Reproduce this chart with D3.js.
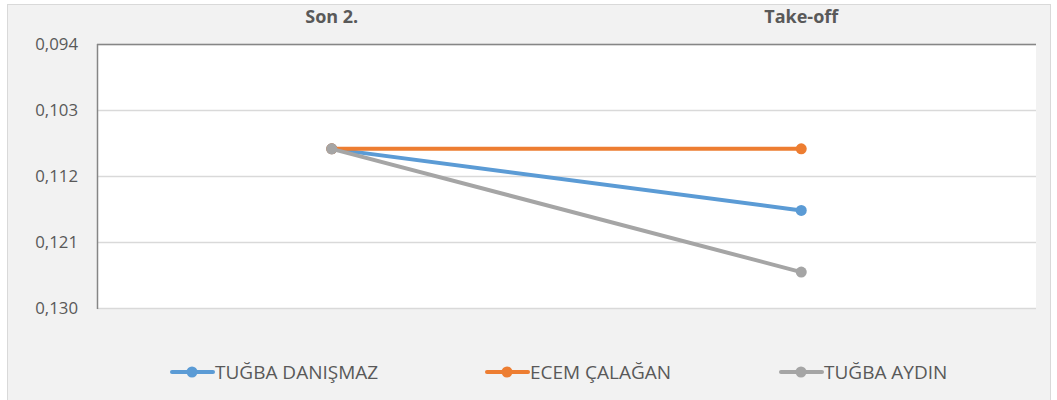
<!DOCTYPE html>
<html>
<head>
<meta charset="utf-8">
<script src="https://cdn.jsdelivr.net/npm/d3@7"></script>
<style>
  body { margin: 0; background: #fff; }
  #chart { width: 1057px; height: 400px; }
  text { font-family: 'Open Sans', 'Noto Sans', sans-serif; }
</style>
</head>
<body>
<div id="chart"></div>
<script>
const categories = ['Son 2.', 'Take-off'];
const seriesNames = ['TUĞBA DANIŞMAZ', 'ECEM ÇALAĞAN', 'TUĞBA AYDIN'];
const seriesColors = ['#5b9bd5', '#ed7d31', '#a5a5a5'];
const danismaz = [0.1083, 0.1167];
const calagan = [0.1083, 0.1083];
const aydin = [0.1083, 0.1251];
const yTicks = [0.094, 0.103, 0.112, 0.121, 0.130];

const series = [danismaz, calagan, aydin];

const width = 1057;
const height = 400;

const svg = d3
  .select('#chart')
  .append('svg')
  .attr('width', width)
  .attr('height', height);

// chart panel
svg
  .append('rect')
  .attr('x', 7.5)
  .attr('y', 4.5)
  .attr('width', 1043)
  .attr('height', 400)
  .attr('fill', '#f2f2f2')
  .attr('stroke', '#d9d9d9');

const x = d3.scaleBand().domain(categories).range([97, 1036]);

const y = d3.scaleLinear().domain([0.094, 0.13]).range([44, 308]);

svg
  .append('rect')
  .attr('x', x.range()[0])
  .attr('y', y(0.094))
  .attr('width', x.range()[1] - x.range()[0])
  .attr('height', y(0.13) - y(0.094))
  .attr('fill', '#fff');

// gridlines
svg
  .append('g')
  .selectAll('line')
  .data(yTicks)
  .enter()
  .append('line')
  .attr('x1', x.range()[0])
  .attr('x2', x.range()[1])
  .attr('y1', (d) => Math.round(y(d)) + 0.5)
  .attr('y2', (d) => Math.round(y(d)) + 0.5)
  .attr('stroke', '#d9d9d9')
  .attr('stroke-width', 1.5);

// top category axis line and left value axis line
svg
  .append('line')
  .attr('x1', x.range()[0])
  .attr('x2', x.range()[1])
  .attr('y1', y(0.094) + 0.5)
  .attr('y2', y(0.094) + 0.5)
  .attr('stroke', '#868686')
  .attr('stroke-width', 1.5);

svg
  .append('line')
  .attr('x1', x.range()[0] + 0.5)
  .attr('x2', x.range()[0] + 0.5)
  .attr('y1', y(0.094))
  .attr('y2', y(0.13) + 1)
  .attr('stroke', '#868686')
  .attr('stroke-width', 1.5);

// y tick labels
const fmt = (v) => v.toFixed(3).replace('.', ',');
svg
  .append('g')
  .selectAll('text')
  .data(yTicks)
  .enter()
  .append('text')
  .attr('x', 78)
  .attr('y', (d) => y(d))
  .attr('dy', '0.35em')
  .attr('text-anchor', 'end')
  .attr('fill', '#595959')
  .style('font-size', '16.8px')
  .text(fmt);

// category labels on top
svg
  .append('g')
  .selectAll('text')
  .data(categories)
  .enter()
  .append('text')
  .attr('x', (d) => x(d) + x.bandwidth() / 2)
  .attr('y', 17)
  .attr('dy', '0.35em')
  .attr('text-anchor', 'middle')
  .attr('fill', '#595959')
  .style('font-size', '18px')
  .style('font-weight', 'bold')
  .text((d) => d);

const line = d3
  .line()
  .x((d, i) => x(categories[i]) + x.bandwidth() / 2)
  .y((d) => y(d));

series.forEach((values, s) => {
  svg
    .append('path')
    .datum(values)
    .attr('fill', 'none')
    .attr('stroke', seriesColors[s])
    .attr('stroke-width', 4)
    .attr('stroke-linecap', 'round')
    .attr('d', line);

  svg
    .append('g')
    .selectAll('circle')
    .data(values)
    .enter()
    .append('circle')
    .attr('cx', (d, i) => x(categories[i]) + x.bandwidth() / 2)
    .attr('cy', (d) => y(d))
    .attr('r', 5.5)
    .attr('fill', seriesColors[s]);
});

// legend
const legendX = [172, 487, 781];
const legend = svg
  .append('g')
  .selectAll('g')
  .data(seriesNames)
  .enter()
  .append('g')
  .attr('transform', (d, i) => `translate(${legendX[i]},372)`);

legend
  .append('line')
  .attr('x1', 0)
  .attr('x2', 41)
  .attr('stroke', (d, i) => seriesColors[i])
  .attr('stroke-width', 4)
  .attr('stroke-linecap', 'round');

legend
  .append('circle')
  .attr('cx', 20)
  .attr('r', 5.5)
  .attr('fill', (d, i) => seriesColors[i]);

legend
  .append('text')
  .attr('x', 43)
  .attr('dy', '0.35em')
  .attr('fill', '#595959')
  .style('font-size', '19px')
  .text((d) => d);
</script>
</body>
</html>
